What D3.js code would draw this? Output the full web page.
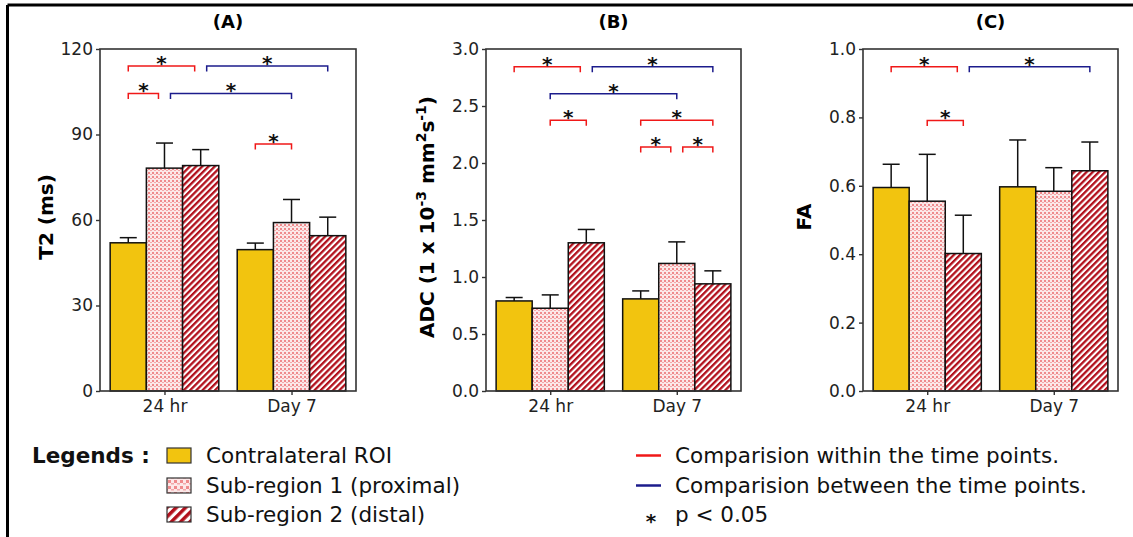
<!DOCTYPE html>
<html lang="en">
<head>
    <meta charset="UTF-8">
    <title>T2 / ADC / FA</title>
    <script src="https://d3js.org/d3.v7.min.js"></script>
    <style>
        body { margin: 0; background: #fff; }
        svg { display: block; font-family: "DejaVu Sans", Verdana, sans-serif; }
        .frame { fill: none; stroke: #333; stroke-width: 1.6; }
        .tick text { font-family: "DejaVu Sans", Verdana, sans-serif; font-size: 17px; fill: #222; }
        .tick line { stroke: #333; stroke-width: 1.4; }
        .bar { stroke: #111; stroke-width: 1.5; }
        .err { stroke: #111; stroke-width: 1.5; fill: none; }
        .star { font-weight: bold; font-size: 20px; text-anchor: middle; fill: #111; }
        .leg { font-size: 21.5px; fill: #111; }
    </style>
</head>
<body>
<script>
    const width = 1133;
    const height = 537;

    const categories = ["24 hr", "Day 7"];
    const series = ["Contralateral ROI", "Sub-region 1 (proximal)", "Sub-region 2 (distal)"];

    // means [group][series] and upper error (SD)
    const t2Mean = [[52.0, 78.2, 79.1], [49.6, 59.1, 54.5]];
    const t2Err  = [[1.8, 8.8, 5.6], [2.3, 8.1, 6.5]];
    const adcMean = [[0.79, 0.726, 1.30], [0.808, 1.119, 0.94]];
    const adcErr  = [[0.03, 0.117, 0.117], [0.07, 0.189, 0.114]];
    const faMean = [[0.595, 0.555, 0.402], [0.597, 0.584, 0.644]];
    const faErr  = [[0.068, 0.137, 0.112], [0.137, 0.069, 0.084]];

    const t2Ticks = [0, 30, 60, 90, 120];
    const adcTicks = [0, 0.5, 1.0, 1.5, 2.0, 2.5, 3.0];
    const faTicks = [0, 0.2, 0.4, 0.6, 0.8, 1.0];

    // significance brackets: from [group, series] to [group, series], level in data units
    const t2Sig = [
        {from: [0, 0], to: [0, 2], level: 114, type: "within"},
        {from: [0, 2], to: [1, 2], level: 114, type: "between"},
        {from: [0, 0], to: [0, 1], level: 104.4, type: "within"},
        {from: [0, 1], to: [1, 1], level: 104.4, type: "between"},
        {from: [1, 0], to: [1, 1], level: 86.7, type: "within"}
    ];
    const adcSig = [
        {from: [0, 0], to: [0, 2], level: 2.845, type: "within"},
        {from: [0, 2], to: [1, 2], level: 2.845, type: "between"},
        {from: [0, 1], to: [1, 1], level: 2.608, type: "between"},
        {from: [0, 1], to: [0, 2], level: 2.374, type: "within"},
        {from: [1, 0], to: [1, 2], level: 2.374, type: "within"},
        {from: [1, 0], to: [1, 1], level: 2.14, type: "within"},
        {from: [1, 1], to: [1, 2], level: 2.14, type: "within"}
    ];
    const faSig = [
        {from: [0, 0], to: [0, 2], level: 0.948, type: "within"},
        {from: [0, 2], to: [1, 2], level: 0.948, type: "between"},
        {from: [0, 1], to: [0, 2], level: 0.791, type: "within"}
    ];

    const sigColor = {within: "#f01818", between: "#1c1c8c"};
    const yellow = "#f2c40f";
    const stripeRed = "#b2101c";

    const svg = d3.select("body").append("svg")
        .attr("width", width).attr("height", height);

    // patterns
    const defs = svg.append("defs");
    function dotPattern(id, s) {
        const p = defs.append("pattern").attr("id", id)
            .attr("patternUnits", "userSpaceOnUse")
            .attr("width", 4 * s).attr("height", 4 * s);
        p.append("rect").attr("width", 4 * s).attr("height", 4 * s).attr("fill", "#fce8e8");
        p.append("rect").attr("width", 2 * s).attr("height", 2 * s).attr("fill", "#ef8a8c");
        p.append("rect").attr("x", 2 * s).attr("y", 2 * s).attr("width", 2 * s).attr("height", 1 * s).attr("fill", "#f3a8aa");
    }
    function stripePattern(id, s) {
        const p = defs.append("pattern").attr("id", id)
            .attr("patternUnits", "userSpaceOnUse")
            .attr("width", 4.4 * s).attr("height", 4.4 * s)
            .attr("patternTransform", "rotate(45)");
        p.append("rect").attr("width", 4.4 * s).attr("height", 4.4 * s).attr("fill", "#fff");
        p.append("rect").attr("width", 2.3 * s).attr("height", 4.4 * s).attr("fill", stripeRed);
    }
    dotPattern("dots", 1);
    dotPattern("dotsLeg", 1.5);
    stripePattern("stripes", 1);
    stripePattern("stripesLeg", 1.5);
    const fills = [yellow, "url(#dots)", "url(#stripes)"];
    const legFills = [yellow, "url(#dotsLeg)", "url(#stripesLeg)"];

    // outer border (cropped at right and bottom)
    svg.append("line").attr("x1", 7.5).attr("x2", width).attr("y1", 5).attr("y2", 5)
        .attr("stroke", "#000").attr("stroke-width", 3);
    svg.append("line").attr("x1", 7.5).attr("x2", 7.5).attr("y1", 5).attr("y2", height)
        .attr("stroke", "#000").attr("stroke-width", 3);

    const plotTop = 49, plotBottom = 391;

    const panels = [
        {title: "(A)", x0: 100, x1: 356, mean: t2Mean, err: t2Err, ticks: t2Ticks, max: 120,
            fmt: d3.format("d"), sig: t2Sig, labelX: 53, label: [["T2 (ms)"]]},
        {title: "(B)", x0: 486, x1: 741, mean: adcMean, err: adcErr, ticks: adcTicks, max: 3,
            fmt: d3.format(".1f"), sig: adcSig, labelX: 434,
            label: [["ADC (1 x 10"], ["-3", true], [" mm"], ["2", true], ["s"], ["-1", true], [")"]]},
        {title: "(C)", x0: 863, x1: 1118, mean: faMean, err: faErr, ticks: faTicks, max: 1,
            fmt: d3.format(".1f"), sig: faSig, labelX: 811, label: [["FA"]]}
    ];

    panels.forEach(function(p) {
        const g = svg.append("g");
        const x = d3.scaleBand().domain(d3.range(categories.length)).range([p.x0, p.x1])
            .paddingInner(0.145).paddingOuter(0.08);
        const xs = d3.scaleBand().domain(d3.range(series.length)).range([0, x.bandwidth()]);
        const y = d3.scaleLinear().domain([0, p.max]).range([plotBottom, plotTop]);
        const cx = (gi, si) => x(gi) + xs(si) + xs.bandwidth() / 2;

        // title
        g.append("text").attr("x", (p.x0 + p.x1) / 2).attr("y", 28)
            .attr("text-anchor", "middle").attr("font-weight", "bold").attr("font-size", 18)
            .text(p.title);

        // y axis
        g.append("g").attr("transform", `translate(${p.x0},0)`)
            .call(d3.axisLeft(y).tickValues(p.ticks).tickFormat(p.fmt).tickSize(4).tickPadding(3))
            .call(a => a.select(".domain").remove());

        // x axis
        g.append("g").attr("transform", `translate(0,${plotBottom})`)
            .call(d3.axisBottom(d3.scalePoint().domain(categories)
                .range([x(0) + x.bandwidth() / 2, x(1) + x.bandwidth() / 2]))
                .tickSize(4).tickPadding(5))
            .call(a => a.select(".domain").remove());

        // y label
        const lab = g.append("text")
            .attr("transform", `translate(${p.labelX},${(plotTop + plotBottom) / 2 - 3}) rotate(-90)`)
            .attr("text-anchor", "middle").attr("font-weight", "bold").attr("font-size", 20);
        p.label.forEach(function(part, i) {
            const prevSup = i > 0 && p.label[i - 1][1];
            const t = lab.append("tspan").text(part[0]);
            if (part[1]) t.attr("dy", -8).attr("font-size", 14);
            else if (prevSup) t.attr("dy", 8);
        });

        // bars
        const cells = [];
        p.mean.forEach((row, gi) => row.forEach((v, si) => cells.push({gi, si, v, e: p.err[gi][si]})));

        g.selectAll("line.errv").data(cells).enter().append("line").attr("class", "err")
            .attr("x1", d => cx(d.gi, d.si)).attr("x2", d => cx(d.gi, d.si))
            .attr("y1", d => y(d.v)).attr("y2", d => y(d.v + d.e));
        g.selectAll("line.errc").data(cells).enter().append("line").attr("class", "err")
            .attr("x1", d => cx(d.gi, d.si) - 8.5).attr("x2", d => cx(d.gi, d.si) + 8.5)
            .attr("y1", d => y(d.v + d.e)).attr("y2", d => y(d.v + d.e));

        g.selectAll("rect.bar").data(cells).enter().append("rect").attr("class", "bar")
            .attr("x", d => x(d.gi) + xs(d.si)).attr("width", xs.bandwidth())
            .attr("y", d => y(d.v)).attr("height", d => plotBottom - y(d.v))
            .attr("fill", d => fills[d.si]);

        // frame
        g.append("rect").attr("class", "frame")
            .attr("x", p.x0).attr("y", plotTop).attr("width", p.x1 - p.x0).attr("height", plotBottom - plotTop);

        // significance brackets; shorten ends shared with a neighbour on the same level
        const same = (a, b) => a[0] === b[0] && a[1] === b[1];
        p.sig.forEach(function(s) {
            const row = p.sig.filter(o => o !== s && o.level === s.level);
            let xa = cx(s.from[0], s.from[1]);
            let xb = cx(s.to[0], s.to[1]);
            if (row.some(o => same(o.to, s.from))) xa += 6;
            if (row.some(o => same(o.from, s.to))) xb -= 6;
            const yy = y(s.level);
            g.append("path")
                .attr("d", `M${xa},${yy + 5.5}V${yy}H${xb}V${yy + 5.5}`)
                .attr("fill", "none").attr("stroke", sigColor[s.type]).attr("stroke-width", 1.5);
            g.append("text").attr("class", "star")
                .attr("x", (xa + xb) / 2).attr("y", yy + 4).text("*");
        });
    });

    // legend
    const leg = svg.append("g");
    const rowY = [463, 493, 522];
    leg.append("text").attr("class", "leg").attr("x", 32).attr("y", rowY[0])
        .attr("font-weight", "bold").text("Legends :");
    series.forEach(function(s, i) {
        leg.append("rect").attr("x", 167).attr("y", rowY[i] - 15).attr("width", 24).attr("height", 15)
            .attr("fill", legFills[i]).attr("stroke", "#333").attr("stroke-width", 1.2);
        leg.append("text").attr("class", "leg").attr("x", 206).attr("y", rowY[i]).text(s);
    });

    const sigLegend = [
        {type: "within", text: "Comparision within the time points."},
        {type: "between", text: "Comparision between the time points."}
    ];
    sigLegend.forEach(function(s, i) {
        leg.append("line").attr("x1", 636).attr("x2", 661)
            .attr("y1", rowY[i] - 7.5).attr("y2", rowY[i] - 7.5)
            .attr("stroke", sigColor[s.type]).attr("stroke-width", 2.5);
        leg.append("text").attr("class", "leg").attr("x", 675).attr("y", rowY[i]).text(s.text);
    });
    leg.append("text").attr("class", "star").attr("font-size", 24)
        .attr("x", 651).attr("y", rowY[2] + 6).text("*");
    leg.append("text").attr("class", "leg").attr("x", 675).attr("y", rowY[2]).text("p < 0.05");
</script>
</body>
</html>
